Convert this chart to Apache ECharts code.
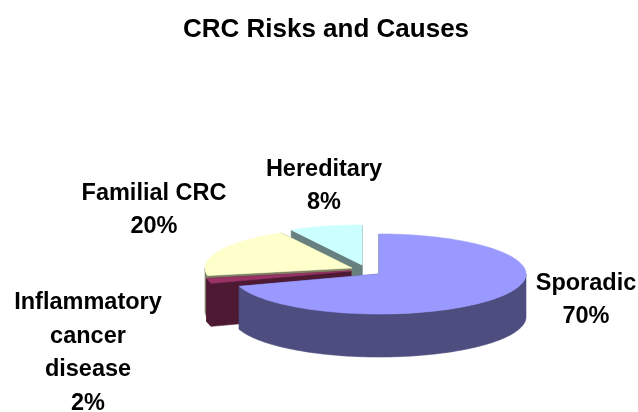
<!DOCTYPE html>
<html>
<head>
<meta charset="utf-8">
<style>html,body{margin:0;padding:0;background:#fff}#c{width:638px;height:412px}</style>
<script src="https://cdn.jsdelivr.net/npm/echarts@6/dist/echarts.min.js"></script>
</head>
<body>
<div id="c"></div>
<script>
var titleText = 'CRC Risks and Causes';
var categories = ['Sporadic', 'Inflammatory\ncancer\ndisease', 'Familial CRC', 'Hereditary'];
var shares = [70, 2, 20, 8];

// Layout and style, kept apart from the data
var topColors = ['#9999FF', '#993366', '#FFFFCC', '#CCFFFF'];
var sideColors = ['#4D4D80', '#4D1933', '#808066', '#668080'];
var apexes = [[379, 274], [351, 271], [352, 268], [362, 265]];
var labelAnchors = [[586, 300], [88, 353], [154, 210], [324, 186]];
var RX = 147, RY = 40, DEPTH = 43, LINE = 33.6;

var total = shares.reduce(function (a, b) { return a + b; }, 0);
function rim(apex, deg, drop) {
  var t = deg * Math.PI / 180;
  return [apex[0] + RX * Math.sin(t), apex[1] - RY * Math.cos(t) + (drop || 0)];
}
function arc(apex, a0, a1, drop) {
  var pts = [], n = Math.max(2, Math.ceil(Math.abs(a1 - a0) / 1.5));
  for (var i = 0; i <= n; i++) pts.push(rim(apex, a0 + (a1 - a0) * i / n, drop));
  return pts;
}
function poly(points, fill, z) {
  return { type: 'polygon', z2: z, shape: { points: points },
    style: { fill: fill, stroke: fill, lineWidth: 0.6 } };
}
function renderItem(params, api) {
  var i = params.dataIndex, value = api.value(0), before = 0;
  for (var k = 0; k < i; k++) before += shares[k];
  var a0 = before / total * 360, a1 = (before + value) / total * 360;
  var apex = apexes[i], side = sideColors[i];
  var layer = (shares.length - 1 - i) * 10; // slices later in the circle lie behind
  var kids = [];
  [a0, a1].forEach(function (a) {
    var r = rim(apex, a);
    kids.push(poly([apex, r, [r[0], r[1] + DEPTH], [apex[0], apex[1] + DEPTH]], side, layer));
  });
  var w0 = Math.max(a0, 90), w1 = Math.min(a1, 270);
  if (w1 > w0) {
    kids.push(poly(arc(apex, w0, w1, 0).concat(arc(apex, w1, w0, DEPTH)), side, layer + 1));
  }
  kids.push(poly([apex].concat(arc(apex, a0, a1, 0)), topColors[i], layer + 2));
  var text = categories[i] + '\n' + value + '%';
  kids.push({ type: 'text', z2: 100, style: {
    text: text, x: labelAnchors[i][0], y: labelAnchors[i][1], align: 'center', verticalAlign: 'middle',
    fill: '#000', lineHeight: LINE, font: 'bold 23.5px "Liberation Sans", Arial, sans-serif'
  } });
  return { type: 'group', children: kids };
}
var chart = echarts.init(document.getElementById('c'), null, { renderer: 'canvas' });
chart.setOption({
  animation: false,
  backgroundColor: '#ffffff',
  title: { text: titleText, left: 321, top: 12, textAlign: 'center',
    textStyle: { color: '#000', fontSize: 26, fontWeight: 'bold', fontFamily: '"Liberation Sans", Arial, sans-serif' } },
  series: [{
    type: 'custom',
    coordinateSystem: 'none',
    silent: true,
    clip: false,
    renderItem: renderItem,
    data: shares.map(function (v, i) { return { name: categories[i], value: [v] }; })
  }]
});
</script>
</body>
</html>
